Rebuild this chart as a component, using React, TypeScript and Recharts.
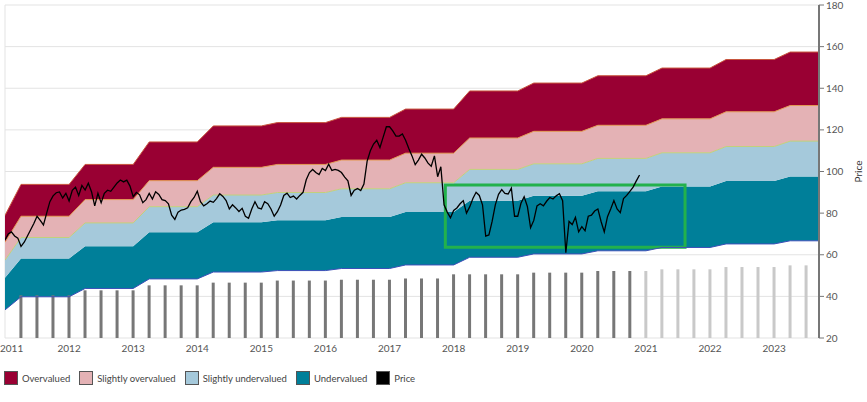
import React from 'react'
import { ComposedChart, Area, Line, Bar, Cell, XAxis, YAxis, CartesianGrid, ReferenceArea } from 'recharts'

// valuation bands: vertices of the stepped outline (fractional years)
const bandDates = [
  2011.5, 2011.75, 2012.5, 2012.75, 2013.5, 2013.75, 2014.5, 2014.75, 2015.5, 2015.75, 2016.5,
  2016.75, 2017.5, 2017.75, 2018.5, 2018.75, 2019.5, 2019.75, 2020.5, 2020.75, 2021.5, 2021.75,
  2022.5, 2022.75, 2023.5, 2023.75, 2024.25,
]
const overvaluedTop = [
  78.9, 93.8, 93.8, 103.4, 103.4, 114.2, 114.2, 121.9, 121.9, 123.5, 123.5, 126.0, 126.0, 130.0,
  130.0, 138.7, 138.7, 142.5, 142.5, 146.0, 146.0, 149.7, 149.7, 153.8, 153.8, 157.4, 157.4,
]
const slightlyOverTop = [
  66.0, 78.5, 78.5, 86.5, 86.5, 95.6, 95.6, 102.0, 102.0, 103.4, 103.4, 105.5, 105.5, 108.8,
  108.8, 116.1, 116.1, 119.3, 119.3, 122.2, 122.2, 125.3, 125.3, 128.7, 128.7, 131.7, 131.7,
]
const slightlyUnderTop = [
  57.4, 68.3, 68.3, 75.3, 75.3, 83.1, 83.1, 88.7, 88.7, 89.9, 89.9, 91.7, 91.7, 94.6,
  94.6, 101.0, 101.0, 103.7, 103.7, 106.3, 106.3, 109.0, 109.0, 112.0, 112.0, 114.6, 114.6,
]
const undervaluedTop = [
  48.9, 58.2, 58.2, 64.1, 64.1, 70.8, 70.8, 75.6, 75.6, 76.6, 76.6, 78.1, 78.1, 80.6,
  80.6, 86.0, 86.0, 88.4, 88.4, 90.5, 90.5, 92.8, 92.8, 95.4, 95.4, 97.6, 97.6,
]
const undervaluedBottom = [
  33.5, 39.8, 39.8, 43.8, 43.8, 48.4, 48.4, 51.7, 51.7, 52.4, 52.4, 53.4, 53.4, 55.1,
  55.1, 58.8, 58.8, 60.4, 60.4, 61.9, 61.9, 63.5, 63.5, 65.2, 65.2, 66.7, 66.7,
]

// quarterly bars, first one at Q3 2011
const barStart = 2011.75
const barValues = [
  40.5, 40.5, 40.5, 40.5, 42.9, 42.9, 42.9, 42.9, 45.3, 45.3, 45.3, 45.3, 46.6, 46.6, 46.6, 46.6,
  47.6, 47.6, 47.6, 47.6, 48.0, 48.0, 48.0, 48.0, 48.6, 48.6, 48.6, 50.6, 50.6, 50.6, 50.6, 50.6,
  51.4, 51.4, 51.4, 51.4, 52.2, 52.2, 52.2, 52.2, 53.0, 53.0, 53.0, 53.0, 54.1, 54.1, 54.1, 54.1,
  54.9, 54.9,
]
const lastReported = 2021.25

// price, sampled every 0.05 year from mid 2011
const priceStart = 2011.5
const priceStep = 0.05
const priceValues = [
  67.1, 70, 71, 69, 68, 64, 66, 69, 72, 75, 78.5, 76.5, 74.3, 80, 85.5, 88.3, 89.8, 90.2, 87.3, 89.5,
  85.8, 91, 92.5, 88.5, 93.3, 91.1, 94.4, 90.3, 83.5, 89.5, 85, 89.5, 91, 90.5, 92.5, 94.5, 95.9, 95,
  95.8, 93, 87.9, 90, 88.8, 85, 86.5, 89.5, 86.8, 90.3, 89, 86.5, 86, 84.5, 79, 77, 80.5, 81.5, 81.8,
  82.6, 85.5, 87.5, 90.5, 85.5, 83.5, 84.5, 85.8, 85.2, 87, 89.3, 88, 86, 82, 84, 82.5, 80.8, 82.3,
  78.5, 77.5, 82, 85.5, 82.5, 82, 85.5, 84.5, 82, 78.5, 80.7, 83.9, 88.5, 89.6, 87.5, 88.2, 86.8,
  88.5, 90, 96, 99.5, 101, 99.5, 98.5, 101.5, 100.5, 103.5, 100.5, 101, 100.5, 99.5, 97.3, 95.5,
  88.5, 91, 91.8, 90.8, 94, 105, 110, 113.2, 115, 111.5, 116.5, 121.5, 121.5, 119.5, 117, 117, 118,
  115, 111, 107.5, 103.3, 105.5, 108.3, 106.5, 104, 102.5, 107.5, 97.5, 102.3, 84, 80.5, 77.8, 81.3,
  82.5, 84.5, 86, 80, 83, 87, 90, 88.5, 84, 69, 69.5, 76, 84, 89, 91.3, 89.5, 89.2, 92, 78.5, 78.5,
  84.7, 87.9, 83.2, 73, 76.5, 83.5, 84.5, 83.5, 85.7, 87.5, 86.8, 88.3, 89.3, 86, 61, 76, 74.5, 78,
  71, 73.5, 71.5, 78.5, 79, 81, 82, 76, 71, 78.3, 82, 86, 82, 80.2, 87, 88.5, 90.5, 92.5, 95.5, 98.3,
]

const yearTicks = [2012, 2013, 2014, 2015, 2016, 2017, 2018, 2019, 2020, 2021, 2022, 2023, 2024]
const yearLabelTicks = [2011.5, 2012.5, 2013.5, 2014.5, 2015.5, 2016.5, 2017.5, 2018.5, 2019.5, 2020.5, 2021.5, 2022.5, 2023.5]
const priceTicks = [20, 40, 60, 80, 100, 120, 140, 160, 180]

// highlighted range
const boxYears = [2018.37, 2022.11]
const boxPrices = [63.6, 93.5]

const COLORS = {
  over: '#990033',
  slightOver: '#e4b2b5',
  slightUnder: '#a5c9db',
  under: '#007f99',
  price: '#000000',
}

type Row = {
  t: number
  l0?: number
  l1?: number
  l2?: number
  l3?: number
  l4?: number
  bar?: number
  price?: number
}

const rowMap = new Map<number, Row>()
const rowAt = (t: number) => {
  const k = Math.round(t * 100)
  let r = rowMap.get(k)
  if (!r) {
    r = { t: k / 100 }
    rowMap.set(k, r)
  }
  return r
}
bandDates.forEach((t, i) => {
  Object.assign(rowAt(t), {
    l0: undervaluedBottom[i],
    l1: undervaluedTop[i],
    l2: slightlyUnderTop[i],
    l3: slightlyOverTop[i],
    l4: overvaluedTop[i],
  })
})
barValues.forEach((v, i) => {
  rowAt(barStart + i * 0.25).bar = v
})
priceValues.forEach((v, i) => {
  rowAt(priceStart + i * priceStep).price = v
})
const data = [...rowMap.values()].sort((a, b) => a.t - b.t)

const range = (lo: keyof Row, hi: keyof Row) => (d: Row) =>
  d[lo] == null ? [null, null] : [d[lo], d[hi]]

const legendItems = [
  { name: 'Overvalued', color: COLORS.over },
  { name: 'Slightly overvalued', color: COLORS.slightOver },
  { name: 'Slightly undervalued', color: COLORS.slightUnder },
  { name: 'Undervalued', color: COLORS.under },
  { name: 'Price', color: COLORS.price },
]

const tickStyle = { fontSize: 10, fill: '#555', fontFamily: 'Lato' }

// year label, kept inside the chart at the left edge like the original
function YearTick({ x, y, payload, index }: any) {
  const first = index === 0
  return (
    <text
      x={first ? 0 : x}
      y={y}
      dy="0.71em"
      textAnchor={first ? 'start' : 'middle'}
      {...tickStyle}
    >
      {Math.floor(payload.value)}
    </text>
  )
}

export default function App() {
  return (
    <div style={{ position: 'relative', width: 867, height: 402, fontFamily: 'Lato' }}>
      <style>{'body{margin:0}'}</style>
      <ComposedChart width={867} height={402} data={data} margin={{ top: 5, right: 0, bottom: 44, left: 5 }}>
        <CartesianGrid stroke="#e3e3e3" xAxisId="yr" />
        <XAxis
          xAxisId="yr"
          dataKey="t"
          type="number"
          domain={[2011.5, 2024.2]}
          allowDataOverflow
          ticks={yearTicks}
          interval={0}
          height={0}
          tick={false}
          tickSize={4}
          tickLine={{ stroke: '#888' }}
          axisLine={{ stroke: '#999' }}
        />
        <XAxis
          dataKey="t"
          type="number"
          domain={[2011.5, 2024.2]}
          allowDataOverflow
          ticks={yearLabelTicks}
          interval={0}
          height={20}
          tickLine={false}
          axisLine={false}
          tickSize={4}
          tickMargin={3}
          tick={<YearTick />}
        />
        <YAxis
          yAxisId="left"
          orientation="left"
          width={0}
          domain={[20, 180]}
          tick={false}
          tickLine={false}
          axisLine={{ stroke: '#999' }}
        />
        <YAxis
          orientation="right"
          domain={[20, 180]}
          ticks={priceTicks}
          interval={0}
          width={48}
          tickSize={5}
          tickMargin={2}
          tick={tickStyle}
          tickLine={{ stroke: '#777' }}
          axisLine={{ stroke: '#777', strokeWidth: 2 }}
          label={{
            value: 'Price',
            angle: -90,
            position: 'insideRight',
            offset: 9,
            fontSize: 10,
            fill: '#333',
            style: { textAnchor: 'middle' },
          }}
        />

        <Area dataKey={range('l0', 'l1')} type="linear" fill={COLORS.under} fillOpacity={1} stroke="none" connectNulls isAnimationActive={false} />
        <Area dataKey={range('l1', 'l2')} type="linear" fill={COLORS.slightUnder} fillOpacity={1} stroke="none" connectNulls isAnimationActive={false} />
        <Area dataKey={range('l2', 'l3')} type="linear" fill={COLORS.slightOver} fillOpacity={1} stroke="none" connectNulls isAnimationActive={false} />
        <Area dataKey={range('l3', 'l4')} type="linear" fill={COLORS.over} fillOpacity={1} stroke="none" connectNulls isAnimationActive={false} />

        <Line dataKey="l0" type="linear" stroke="#3c4fb8" strokeWidth={1} dot={false} connectNulls isAnimationActive={false} />
        <Line dataKey="l2" type="linear" stroke="#c2d07a" strokeWidth={1} dot={false} connectNulls isAnimationActive={false} />
        <Line dataKey="l3" type="linear" stroke="#e39a55" strokeWidth={1} dot={false} connectNulls isAnimationActive={false} />
        <Line dataKey="l4" type="linear" stroke="#c8553d" strokeWidth={1} dot={false} connectNulls isAnimationActive={false} />

        <Bar dataKey="bar" barSize={3} isAnimationActive={false}>
          {data.map((d, i) => (
            <Cell key={i} fill={d.t > lastReported ? '#c9c9c9' : '#777777'} />
          ))}
        </Bar>

        <ReferenceArea
          x1={boxYears[0]}
          x2={boxYears[1]}
          y1={boxPrices[0]}
          y2={boxPrices[1]}
          fill="none"
          fillOpacity={0}
          stroke="#22b14c"
          strokeWidth={3}
          ifOverflow="visible"
        />

        <Line dataKey="price" type="linear" stroke={COLORS.price} strokeWidth={1.3} dot={false} isAnimationActive={false} />
      </ComposedChart>

      <div
        style={{
          position: 'absolute',
          left: 4,
          top: 371,
          display: 'flex',
          alignItems: 'center',
          fontSize: 9.5,
          color: '#444',
        }}
      >
        {legendItems.map(item => (
          <div key={item.name} style={{ display: 'flex', alignItems: 'center', marginRight: 9 }}>
            <span
              style={{
                width: 14,
                height: 14,
                boxSizing: 'border-box',
                border: '1.5px solid #555',
                background: item.color,
                marginRight: 4,
              }}
            />
            <span>{item.name}</span>
          </div>
        ))}
      </div>
    </div>
  )
}
